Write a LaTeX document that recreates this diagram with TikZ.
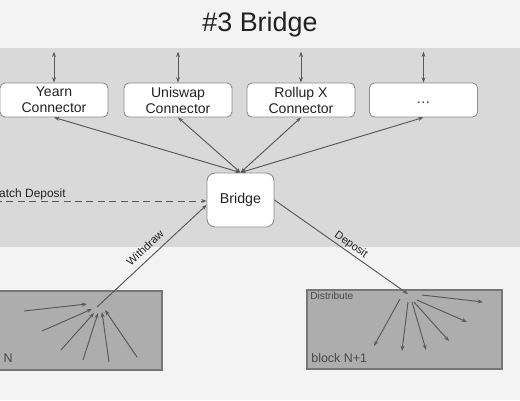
\documentclass[tikz,border=0pt]{standalone}
\usepackage{fontspec}
\setmainfont{Liberation Sans}
\usetikzlibrary{arrows.meta}
\usetikzlibrary{positioning}
\definecolor{sfondo}{HTML}{F3F3F3}
\definecolor{banda}{HTML}{D9D9D9}
\definecolor{blocco}{HTML}{ADADAD}
\definecolor{bordo}{HTML}{8C8C8C}
\definecolor{linea}{HTML}{5A5A5A}
\definecolor{testo}{HTML}{222222}

\begin{document}
\begin{tikzpicture}[x=0.02cm, y=-0.02cm,
    >={Stealth[length=3pt, width=2.2pt]},
    conn/.style={draw=bordo, fill=white, line width=0.5pt, rounded corners=0.1cm,
        minimum width=2.16cm, minimum height=0.68cm, inner sep=1pt, align=center,
        text=testo, font=\fontsize{8}{9.1}\selectfont},
    freccia/.style={draw=linea, line width=0.55pt}
]
    % sfondo
    \useasboundingbox[fill=sfondo] (0, 0) rectangle (520, 400);
    \clip (0, 0) rectangle (520, 400);
    \fill[banda] (0, 48) rectangle (520, 247);

    % titolo
    \node[text=testo, font=\fontsize{15.3}{18}\selectfont] (titolo) at (260, 25) {\#3 Bridge};

    % connectors
    \node[conn] (yearn) at (54, 100) {Yearn\\Connector};
    \node[conn] (uniswap) at (178, 100) {Uniswap\\Connector};
    \node[conn] (rollup) at (301, 100) {Rollup X\\Connector};
    \node[conn] (more) at (423.5, 100) {\vphantom{Ag}\dots};
    \foreach \n in {yearn, uniswap, rollup, more} {
        \coordinate (\n-up) at ([yshift=17.6pt]\n.north);
        \draw[freccia, <->] (\n.north) -- (\n-up);
    }

    % bridge
    \node[draw=bordo, fill=white, line width=0.5pt, rounded corners=0.16cm,
        minimum width=1.34cm, minimum height=1.08cm, text=testo,
        font=\fontsize{8.1}{10}\selectfont] (bridge) at (240.5, 200) {Bridge};
    \foreach \n in {yearn, uniswap, rollup, more} {
        \draw[freccia, <->] (bridge.north) -- (\n.south);
    }

    % batch deposit
    \coordinate (batch) at (-5, 201);
    \draw[freccia, dashed, dash pattern=on 4pt off 2.5pt, ->] (batch) -- (bridge.west |- batch);
    \node[anchor=base east, text=testo, inner sep=0pt, font=\fontsize{6.8}{8}\selectfont] (batchlbl) at (66, 197) {atch Deposit};

    % blocchi
    \draw[draw=bordo!85!black, fill=blocco, line width=0.6pt] (-40, 291) rectangle (162, 370);
    \draw[draw=bordo!85!black, fill=blocco, line width=0.6pt] (307, 290) rectangle (502, 369);
    \node[anchor=base east, text=linea!80!black, inner sep=0pt, font=\fontsize{7.1}{8}\selectfont] (blockN) at (13, 362) {N};
    \node[anchor=base west, text=linea!80!black, inner sep=0pt, font=\fontsize{7.1}{8}\selectfont] (blockNN) at (311, 362) {block N+1};
    \node[anchor=west, text=linea!80!black, inner sep=0pt, font=\fontsize{5.8}{7}\selectfont] (distr) at (310, 296) {Distribute};

    % withdraw / deposit
    \coordinate (wsrc) at (97, 307);
    \coordinate (ddst) at (408, 294);
    \draw[freccia, ->] (wsrc) -- ([yshift=-2.8pt]bridge.west);
    \draw[freccia, ->] (bridge.east) -- (ddst);
    \node[rotate=43, text=testo, inner sep=0pt, font=\fontsize{6.3}{7}\selectfont] (wlbl) at (145, 248) {Withdraw};
    \node[rotate=-35, text=testo, inner sep=0pt, font=\fontsize{6.3}{7}\selectfont] (dlbl) at (351, 245) {Deposit};

    % ventagli
    \foreach \a/\b/\c/\d in {24/311/87/304, 42/331/92/309, 61/350/94/313,
        83/360/98/313, 109/362/102/312, 137/357/105/310} {
        \draw[freccia, ->] (\a, \b) -- (\c, \d);
    }
    \foreach \a/\b/\c/\d in {422/295/483/302, 417/300/467/322, 414/302/449/341,
        412/302/426/350, 408/302/402/351, 400/299/374/346} {
        \draw[freccia, ->] (\a, \b) -- (\c, \d);
    }
\end{tikzpicture}
\end{document}
